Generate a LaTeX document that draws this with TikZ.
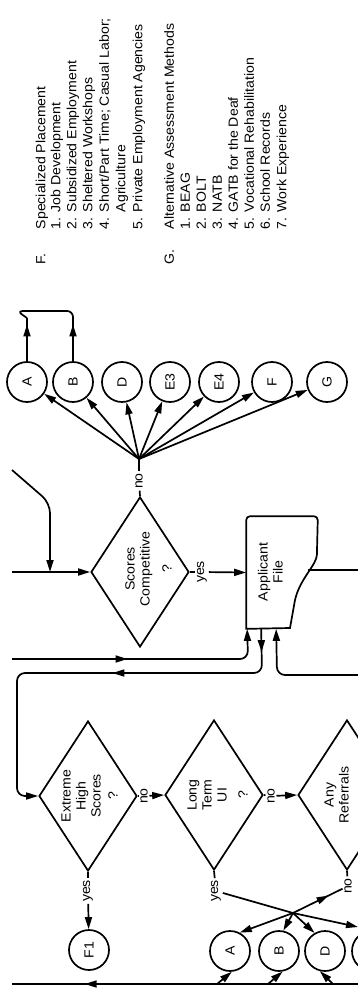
\documentclass[tikz,border=0pt]{standalone}
\usepackage{fontspec}
\setmainfont{Liberation Sans}
\usepackage{tikz}
\usetikzlibrary{arrows.meta, shapes.geometric, decorations.markings}

% text turned to read upwards, slightly widened
\newcommand{\vt}[1]{\rotatebox{90}{\scalebox{1.06}[1]{#1}}}

\tikzset{
  arr/.style={-{Triangle[length=12pt,width=7pt]}},
  midarr/.style={postaction={decorate}, decoration={markings, mark=at position #1 with {\arrow{Triangle[length=12pt,width=7pt]}}}},
  dec/.style={draw, shape=diamond, minimum width=98pt, minimum height=150pt, inner sep=0pt},
  conn/.style={draw, circle, minimum size=40pt, inner sep=0pt},
  filebox/.style={minimum width=70pt, minimum height=111pt, inner sep=0pt},
  lbl/.style={inner sep=1pt},
  leg/.style={anchor=south west, inner sep=0pt, font=\fontsize{13.3}{16}\selectfont},
}

\begin{document}
\begin{tikzpicture}[x=1pt, y=-1pt, line width=1.7pt, every node/.style={font=\fontsize{13.3}{15}\selectfont}]
  \useasboundingbox (0,0) rectangle (358,995);
  \clip (0,0) rectangle (358,995);

  % legend
  \node[leg] (Flbl) at (33.3,265) {\vt{\strut F.}};
  \node[leg] (Fhead) at (33.3,230) {\vt{\strut Specialized Placement}};
  \node[leg] (Fn1) at (48.3,230) {\vt{\strut 1.}};
  \node[leg] (Ft1) at (48.3,213) {\vt{\strut Job Development}};
  \node[leg] (Fn2) at (64.3,230) {\vt{\strut 2.}};
  \node[leg] (Ft2) at (64.3,213) {\vt{\strut Subsidized Employment}};
  \node[leg] (Fn3) at (80.3,230) {\vt{\strut 3.}};
  \node[leg] (Ft3) at (80.3,213) {\vt{\strut Sheltered Workshops}};
  \node[leg] (Fn4) at (96.8,230) {\vt{\strut 4.}};
  \node[leg] (Ft4) at (96.8,213) {\vt{\strut Short/Part Time; Casual Labor;}};
  \node[leg] (Ft4b) at (113.3,213) {\vt{\strut Agriculture}};
  \node[leg] (Fn5) at (130.3,230) {\vt{\strut 5.}};
  \node[leg] (Ft5) at (130.3,213) {\vt{\strut Private Employment Agencies}};

  \node[leg] (Glbl) at (161.8,265) {\vt{\strut G.}};
  \node[leg] (Ghead) at (161.8,230) {\vt{\strut Alternative Assessment Methods}};
  \node[leg] (Gn1) at (177.8,230) {\vt{\strut 1.}};
  \node[leg] (Gt1) at (177.8,213) {\vt{\strut BEAG}};
  \node[leg] (Gn2) at (193.8,230) {\vt{\strut 2.}};
  \node[leg] (Gt2) at (193.8,213) {\vt{\strut BOLT}};
  \node[leg] (Gn3) at (209.8,230) {\vt{\strut 3.}};
  \node[leg] (Gt3) at (209.8,213) {\vt{\strut NATB}};
  \node[leg] (Gn4) at (225.8,230) {\vt{\strut 4.}};
  \node[leg] (Gt4) at (225.8,213) {\vt{\strut GATB for the Deaf}};
  \node[leg] (Gn5) at (241.8,230) {\vt{\strut 5.}};
  \node[leg] (Gt5) at (241.8,213) {\vt{\strut Vocational Rehabilitation}};
  \node[leg] (Gn6) at (257.8,230) {\vt{\strut 6.}};
  \node[leg] (Gt6) at (257.8,213) {\vt{\strut School Records}};
  \node[leg] (Gn7) at (274.3,230) {\vt{\strut 7.}};
  \node[leg] (Gt7) at (274.3,213) {\vt{\strut Work Experience}};

  % upper connectors
  \node[conn] (tA) at (27,382) {\vt{A}};
  \node[conn] (tB) at (73,382) {\vt{B}};
  \node[conn] (tD) at (122,382) {\vt{D}};
  \node[conn] (tE3) at (170,382) {\vt{E3}};
  \node[conn] (tE4) at (219,382) {\vt{E4}};
  \node[conn] (tF) at (272,382) {\vt{F}};
  \node[conn] (tG) at (327,382) {\vt{G}};
  \coordinate (upA) at (27,318);
  \coordinate (upB) at (73,318);
  \draw[midarr=0.85] (tA) -- (upA);
  \draw[midarr=0.85] (tB) -- (upB);
  \draw[rounded corners=6pt] (upA) -- (17,311) -- (73,311) -- (upB);

  % scores competitive
  \node[dec] (sc) at (140,572) {};
  \node (sctxt) at (150,569) {\vt{\begin{tabular}{@{}c@{}}Scores\\Competitive\\[7pt]?\end{tabular}}};
  \node[lbl] (scno) at (139,481) {\vt{no}};
  \coordinate (fan) at (139,459);
  \draw (sc.north) -- (scno);
  \draw (scno) -- (fan);
  \foreach \c in {tA,tB,tD,tE3,tE4,tF,tG}
    \draw[arr] (fan) -- (\c);
  \coordinate (inA) at (12,572);
  \coordinate (inB) at (12,470);
  \coordinate (jn) at (50,572);
  \draw[arr] (inA) -- (sc.west);
  \draw[arr, rounded corners=10pt] (inB) -- (50,503) -- (jn);
  \node[lbl] (scyes) at (202,572) {\vt{yes}};
  \draw (sc.east) -- (scyes);

  % applicant file
  \node[filebox] (file) at (282,572.5) {};
  \draw[rounded corners=4pt] (file.south west) -- (file.north west) -- (file.north east) -- (317,550)
    [sharp corners] .. controls (317,565) and (300,578) .. (295,600) -- (290,628) -- cycle;
  \node (filetxt) at (272,572) {\vt{\begin{tabular}{@{}c@{}}Applicant\\File\end{tabular}}};
  \draw[arr] (scyes) -- (file.west);
  \coordinate (fileR) at (308,570);
  \coordinate (outR) at (358,570);
  \draw (fileR) -- (outR);
  \coordinate (inC) at (12,659);
  \draw[arr, midarr=0.44, rounded corners=8pt] (inC) -- (248,659) -- ([xshift=1pt]file.south west);
  \coordinate (inD) at (358,675);
  \draw[arr, rounded corners=8pt] (inD) -- (277,675) -- ([xshift=30pt]file.south west);

  % lower decisions
  \node[dec] (eh) at (88,796) {};
  \node (ehtxt) at (91,796) {\vt{\begin{tabular}{@{}c@{}}Extreme\\High\\Scores\\[2pt]?\end{tabular}}};
  \node[dec] (lt) at (214,795) {};
  \node (lttxt) at (219,795) {\vt{\begin{tabular}{@{}c@{}}Long\\Term\\UI\\[6pt]?\end{tabular}}};
  \node[dec] (ar) at (347,795) {};
  \node (artxt) at (338,795) {\vt{\begin{tabular}{@{}c@{}}Any\\Referrals\end{tabular}}};
  \draw[arr, rounded corners=8pt, postaction={decorate},
    decoration={markings,
      mark=at position 0.055 with {\arrow{Triangle[length=12pt,width=7pt]}},
      mark=at position 0.45 with {\arrow{Triangle[length=12pt,width=7pt]}}}]
    ([xshift=15pt]file.south west) -- (262,673) -- (17,673) -- (17,796) -- (eh.west);

  \node[lbl] (ehno) at (144,796) {\vt{no}};
  \draw (eh.east) -- (ehno);
  \draw[arr] (ehno) -- (lt.west);
  \node[lbl] (ltno) at (271,796) {\vt{no}};
  \draw (lt.east) -- (ltno);
  \draw[arr] (ltno) -- (ar.west);
  \node[lbl] (ehyes) at (88,891) {\vt{yes}};
  \draw (eh.south) -- (ehyes);
  \node[conn] (F1) at (89,950) {\vt{F1}};
  \draw[arr] (ehyes) -- (F1);
  \node[lbl] (ltyes) at (216,891) {\vt{yes}};
  \draw (lt.south) -- (ltyes);
  \node[lbl] (arno) at (348,886) {\vt{no}};
  \draw (ar.south) -- (arno);

  % lower connectors
  \node[conn] (bA) at (230,951) {\vt{A}};
  \node[conn] (bB) at (279,951) {\vt{B}};
  \node[conn] (bD) at (325,951) {\vt{D}};
  \node[conn] (bE) at (372,951) {};
  \coordinate (jx) at (293,913);
  \coordinate (outE) at (358,927);
  \draw[arr] (ltyes) -- (jx) -- (outE);
  \draw[midarr=0.72] (jx) -- (arno);
  \draw[arr] (jx) -- (bA.62);
  \draw[arr] (jx) -- (bB.78);
  \draw[arr] (jx) -- (bD.120);
  \coordinate (inE) at (358,984);
  \coordinate (outL) at (12,984);
  \draw[midarr=0.79] (inE) -- (outL);
  \coordinate (brA) at (217,984);
  \coordinate (brB) at (268,984);
  \coordinate (brD) at (333,984);
  \draw[arr] (brA) -- (bA.-85);
  \draw[arr] (brB) -- (bB.-80);
  \draw[arr] (brD) -- (bD.-104);
\end{tikzpicture}
\end{document}
